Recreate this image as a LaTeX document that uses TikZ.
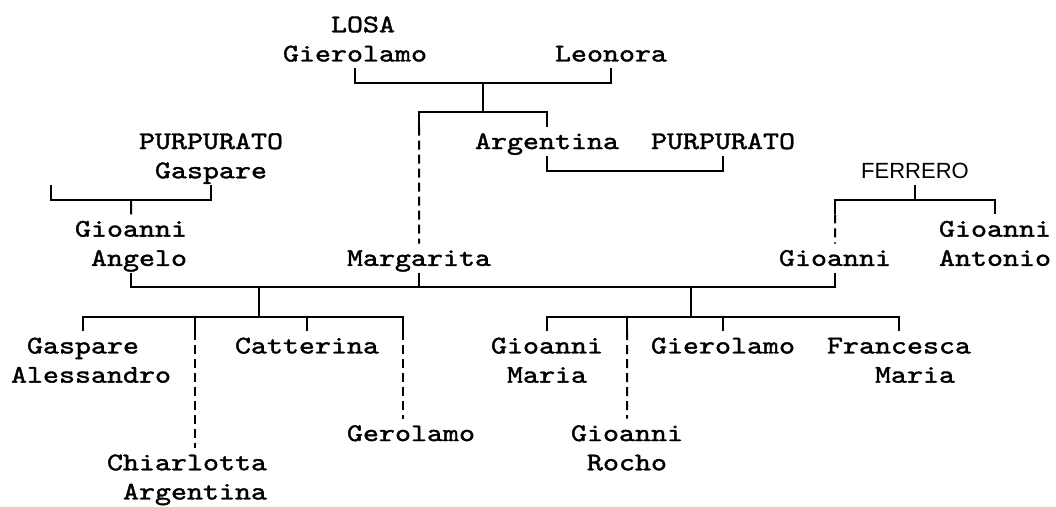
\documentclass[tikz,border=0pt]{standalone}
\usepackage{fontspec}
\newfontfamily\lmm{lmmono10-regular.otf}[FakeStretch=1.2, FakeBold=1.5]
\newfontfamily\lsans{Liberation Sans}
% row geometry: centre of row r at 24.5+29.2r, row height 29.2
\newcommand\rc[1]{(24.5+29.2*(#1))}
\newcommand\pl[1]{\hbox{\rule[-6.85pt]{0pt}{29.2pt}#1}}
\newcommand\one{\hphantom{x}}
\newcommand\twol[2]{\vtop{\baselineskip=29.2pt\lineskip=0pt\lineskiplimit=0pt\pl{#1}\pl{#2}}}
\tikzset{
  person/.style={inner sep=0pt, outer sep=0pt, anchor=north west, font=\lmm\fontsize{25.4}{29.2}\selectfont},
  link/.style={line width=2pt, black},
  maybe/.style={line width=2pt, black, dash pattern=on 9pt off 5pt}
}
\begin{document}
\begin{tikzpicture}[x=1pt,y=-1pt]
\useasboundingbox[fill=white] (0,0) rectangle (1056,506);
% persons (placed by the top of their first row)
\node[person] (losa) at (283,{\rc{0}-14.6}) {\twol{\one\one\one LOSA}{Gierolamo}};
\node[person] (leonora) at (555,{\rc{1}-14.6}) {\pl{Leonora}};
\node[person] (argentina) at (475,{\rc{4}-14.6}) {\pl{Argentina}};
\node[person] (purp2) at (651,{\rc{4}-14.6}) {\pl{PURPURATO}};
\node[person] (purp1) at (139,{\rc{4}-14.6}) {\twol{PURPURATO}{\one Gaspare}};
\node[inner sep=0pt, outer sep=0pt, anchor=north, font=\lsans\fontsize{22}{29.2}\selectfont] (ferrero) at (915,{\rc{5}-14.6}) {\pl{FERRERO}};
\node[person] (gangelo) at (75,{\rc{7}-14.6}) {\twol{Gioanni}{\one Angelo}};
\node[person] (gantonio) at (939,{\rc{7}-14.6}) {\twol{Gioanni}{Antonio}};
\node[person] (margarita) at (347,{\rc{8}-14.6}) {\pl{Margarita}};
\node[person] (gioanni) at (779,{\rc{8}-14.6}) {\pl{Gioanni}};
\node[person] (gaspareA) at (11,{\rc{11}-14.6}) {\twol{\one Gaspare}{Alessandro}};
\node[person] (chiarlotta) at (107,{\rc{15}-14.6}) {\twol{Chiarlotta}{\one Argentina}};
\node[person] (catterina) at (235,{\rc{11}-14.6}) {\pl{Catterina}};
\node[person] (gerolamo) at (347,{\rc{14}-14.6}) {\pl{Gerolamo}};
\node[person] (gmaria) at (491,{\rc{11}-14.6}) {\twol{Gioanni}{\one Maria}};
\node[person] (grocho) at (571,{\rc{14}-14.6}) {\twol{Gioanni}{\one Rocho}};
\node[person] (gierolamo) at (651,{\rc{11}-14.6}) {\pl{Gierolamo}};
\node[person] (francesca) at (827,{\rc{11}-14.6}) {\twol{Francesca}{\one\one\one Maria}};
% junctions
\coordinate (m1) at (483,{\rc{2}});
\coordinate (k1) at (483,{\rc{3}});
\coordinate (k1l) at (419,{\rc{3}+14.6});
\coordinate (m2) at (635,{\rc{5}});
\coordinate (w1) at (51,{\rc{6}-14.6});
\coordinate (m3) at (131,{\rc{6}});
\coordinate (m4) at (915,{\rc{6}});
\coordinate (m4l) at (835,{\rc{6}+14.6});
\coordinate (jl) at (259,{\rc{9}});
\coordinate (jr) at (691,{\rc{9}});
\coordinate (cl) at (259,{\rc{10}});
\coordinate (cl0) at (83,{\rc{10}+14.6});
\coordinate (cl1) at (195,{\rc{10}+14.6});
\coordinate (cl3) at (403,{\rc{10}+14.6});
\coordinate (cr) at (691,{\rc{10}});
\coordinate (cr1) at (627,{\rc{10}+14.6});
% LOSA family
\draw[link] (losa.south) |- (m1) -| (leonora.south);
\draw[link] (m1) -- (k1);
\draw[link] (k1) -| (argentina.north);
\draw[link] (k1) -| (k1l);
\draw[maybe] (k1l) -- (margarita.north);
% Argentina + Purpurato
\draw[link] (argentina.south) |- (m2) -| (purp2.south);
% Purpurato Gaspare
\draw[link] (w1) |- (m3) -| (purp1.south);
\draw[link] (m3) -- (gangelo.north);
% Ferrero
\draw[link] (ferrero.south) -- (m4);
\draw[link] (m4) -| (gantonio.north);
\draw[link] (m4) -| (m4l);
\draw[maybe] (m4l) -- (gioanni.north);
% marriages of Margarita
\draw[link] (gangelo.south) |- (jl) -- (jr) -| (gioanni.south);
\draw[link] (margarita.south) -- (margarita.south |- jl);
% left children
\draw[link] (jl) -- (cl);
\draw[link] (cl0) |- (cl) -| (cl3);
\draw[link] (cl1) -- (cl1 |- cl);
\draw[maybe] (cl1) -- (cl1 |- chiarlotta.north);
\draw[link] (catterina.north) -- (catterina.north |- cl);
\draw[maybe] (cl3) -- (cl3 |- gerolamo.north);
% right children
\draw[link] (jr) -- (cr);
\draw[link] (gmaria.north) |- (cr) -| (francesca.north);
\draw[link] (gierolamo.north) -- (gierolamo.north |- cr);
\draw[link] (cr1) -- (cr1 |- cr);
\draw[maybe] (cr1) -- (grocho.north);
\end{tikzpicture}
\end{document}
